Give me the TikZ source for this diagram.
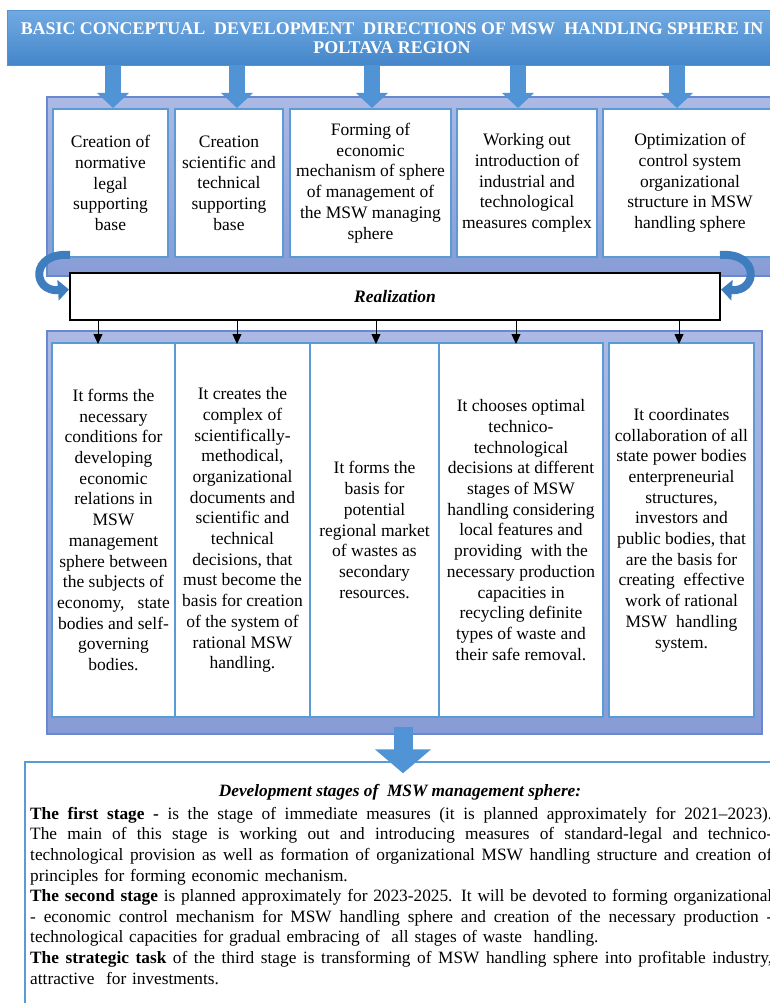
\documentclass[tikz,border=0pt]{standalone}
\usepackage{fontspec}
\setmainfont{Liberation Serif}
\usetikzlibrary{arrows.meta}

\definecolor{titletop}{RGB}{113,170,226}
\definecolor{titlebot}{RGB}{68,134,202}
\definecolor{titleline}{RGB}{84,146,208}
\definecolor{bandtop}{RGB}{172,185,228}
\definecolor{bandbot}{RGB}{135,156,214}
\definecolor{bandline}{RGB}{104,136,208}
\definecolor{boxline}{RGB}{91,155,213}
\definecolor{arrowblue}{RGB}{80,148,214}
\definecolor{curlblue}{RGB}{62,126,190}

\newcommand{\fullline}[1]{\makebox[742pt][s]{\spaceskip=0.25em plus 1em minus 0.08em\relax #1}\\}

\begin{document}
\begin{tikzpicture}
[x=1pt,y=-1pt,every node/.style={font=\fontsize{17.5}{20.7}\selectfont,align=center,inner sep=0pt}]
\tikzset{band/.style = {draw=bandline,line width=1.5pt,top color=bandtop,bottom color=bandbot}}
\tikzset{dirbox/.style = {draw=boxline,line width=2pt,fill=white,minimum height=148pt}}
\tikzset{taskbox/.style = {draw=boxline,line width=2pt,fill=white,minimum height=374pt}}
\tikzset{fat/.style = {draw=arrowblue,line width=16pt,-{Triangle[width=31pt,length=15pt]}}}
\tikzset{tick/.style = {draw=black,line width=0.8pt,-{Triangle[width=9pt,length=10pt]}}}
\tikzset{curl/.style = {draw=curlblue,line width=8pt,-{Triangle[width=20pt,length=11pt]}}}
\useasboundingbox (0,0) rectangle (769,1003);
  % heading
  \node[draw=titleline,line width=1pt,top color=titletop,bottom color=titlebot,
        minimum width=770pt,minimum height=55pt,text=white,
        font=\fontsize{17.9}{19.5}\selectfont\bfseries] (title) at (392,38)
        {BASIC CONCEPTUAL\ \ DEVELOPMENT\ \ DIRECTIONS OF MSW\ \ HANDLING SPHERE IN\\POLTAVA REGION};
  % directions
  \node[band,minimum width=733pt,minimum height=179pt] (upband) at (413.5,186.5) {};
  \node[dirbox,minimum width=115pt] (up1) at (110.5,183) {Creation of\\normative\\legal\\supporting\\base};
  \node[dirbox,minimum width=108pt] (up2) at (229,183) {Creation\\scientific and\\technical\\supporting\\base};
  \node[dirbox,minimum width=161pt] (up3) at (370.5,183) {Forming of\\economic\\mechanism of sphere\\of management of\\the MSW managing\\sphere};
  \node[dirbox,minimum width=140pt] (up4) at (527,183) {Working out\\introduction of\\industrial and\\technological\\measures complex};
  \node[dirbox,minimum width=174pt] (up5) at (690,183) {Optimization of\\control system\\organizational\\structure in MSW\\handling sphere};
  % realization
  \node[draw=black,line width=2pt,fill=white,minimum width=650pt,minimum height=47pt,
        font=\fontsize{17.5}{20.7}\selectfont\bfseries\itshape] (real) at (395,296.5) {Realization};
  % tasks
  \node[band,minimum width=715pt,minimum height=403pt] (lowband) at (404.5,532.5) {};
  \node[taskbox,minimum width=123pt] (low1) at (113.5,530) {It forms the\\necessary\\conditions for\\developing\\economic\\relations in\\MSW\\management\\sphere between\\the subjects of\\economy,\ \ \ state\\bodies and self-\\governing\\bodies.};
  \node[taskbox,minimum width=135pt] (low2) at (242.5,530) {It creates the\\complex of\\scientifically-\\methodical,\\organizational\\documents and\\scientific and\\technical\\decisions, that\\must become the\\basis for creation\\of the system of\\rational MSW\\handling.};
  \node[taskbox,minimum width=129pt] (low3) at (374.5,530) {It forms the\\basis for\\potential\\regional market\\of wastes as\\secondary\\resources.};
  \node[taskbox,minimum width=164pt] (low4) at (521,530) {It chooses optimal\\technico-\\technological\\decisions at different\\stages of MSW\\handling considering\\local features and\\providing\ \ with the\\necessary production\\capacities in\\recycling definite\\types of waste and\\their safe removal.};
  \node[taskbox,minimum width=145pt] (low5) at (681.5,530) {It coordinates\\collaboration of all\\state power bodies\\enterpreneurial\\structures,\\investors and\\public bodies, that\\are the basis for\\creating\ \ effective\\work of rational\\MSW\ \ handling\\system.};
  % stages
  \node[draw=boxline,line width=1.5pt,fill=white,minimum width=750pt,minimum height=248pt] (stagebox) at (400,886) {};
  \node[font=\fontsize{17.3}{20.6}\selectfont\bfseries\itshape] (stagehead) at (400,792) {Development stages of\ \ MSW management sphere:};
  \node[font=\fontsize{17.3}{20.6}\selectfont,text width=742pt,align=left,anchor=north west] (stagetext) at (30,807) {%
\fullline{\textbf{The first stage -} is the stage of immediate measures (it is planned approximately for 2021–2023).}
\fullline{The main of this stage is working out and introducing measures of standard-legal and technico-}
\fullline{technological provision as well as formation of organizational MSW handling structure and creation of}
principles for forming economic mechanism.\\
\fullline{\textbf{The second stage} is planned approximately for 2023-2025. It will be devoted to forming organizational}
\fullline{- economic control mechanism for MSW handling sphere and creation of the necessary production -}
technological capacities for gradual embracing of\ \ all stages of waste\ \ handling.\\
\fullline{\textbf{The strategic task} of the third stage is transforming of MSW handling sphere into profitable industry,}
attractive\ \ for investments.};
  % arrows
  \coordinate (b1) at (113,0);
  \coordinate (b2) at (237,0);
  \coordinate (b3) at (372,0);
  \coordinate (b4) at (518,0);
  \coordinate (b5) at (677,0);
  \draw[fat] (title.south -| b1) -- (up1.north -| b1);
  \draw[fat] (title.south -| b2) -- (up2.north -| b2);
  \draw[fat] (title.south -| b3) -- (up3.north -| b3);
  \draw[fat] (title.south -| b4) -- (up4.north -| b4);
  \draw[fat] (title.south -| b5) -- (up5.north -| b5);
  \coordinate (t1) at (98,0);
  \coordinate (t2) at (237,0);
  \coordinate (t3) at (376,0);
  \coordinate (t4) at (516,0);
  \coordinate (t5) at (679,0);
  \draw[tick] (real.south -| t1) -- ([yshift=-2pt]low1.north -| t1);
  \draw[tick] (real.south -| t2) -- ([yshift=-2pt]low2.north -| t2);
  \draw[tick] (real.south -| t3) -- ([yshift=-2pt]low3.north -| t3);
  \draw[tick] (real.south -| t4) -- ([yshift=-2pt]low4.north -| t4);
  \draw[tick] (real.south -| t5) -- ([yshift=-2pt]low5.north -| t5);
  \coordinate (lc) at (70,255);
  \coordinate (rc) at (720,255);
  \draw[curl] (lc) .. controls (30,252) and (32,292) .. ([yshift=7pt]real.west);
  \draw[curl] (rc) .. controls (760,252) and (758,292) .. ([yshift=7pt]real.east);
  \coordinate (bm) at (403,727);
  \draw[fat,line width=19pt,-{Triangle[width=55pt,length=24pt]}] (bm) -- ([yshift=-12pt]stagebox.north -| bm);
\end{tikzpicture}
\end{document}
